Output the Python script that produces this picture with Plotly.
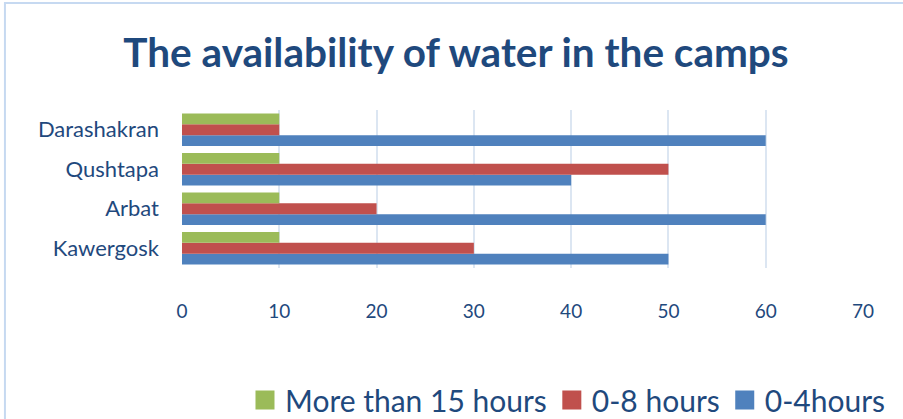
import plotly.graph_objects as go

categories = ["Kawergosk", "Arbat", "Qushtapa", "Darashakran"]
series_names = ["0-4hours", "0-8 hours", "More than 15 hours"]
values_0_4 = [50, 60, 40, 60]
values_0_8 = [30, 20, 50, 10]
values_15 = [10, 10, 10, 10]
colors = ["#4F81BD", "#C0504D", "#9BBB59"]
x_ticks = [0, 10, 20, 30, 40, 50, 60, 70]

TXT = "#1F497D"
FONT = "Lato"

fig = go.Figure()
for name, vals, col in zip(series_names, [values_0_4, values_0_8, values_15], colors):
    fig.add_trace(go.Bar(y=categories, x=vals, name=name, orientation="h",
                         marker=dict(color=col, line=dict(width=0)),
                         showlegend=False))
# legend entries (square markers)
for name, col in zip(series_names, colors):
    fig.add_trace(go.Scatter(x=[None], y=[None], mode="markers", name=name,
                             marker=dict(symbol="square", size=16, color=col,
                                         line=dict(color=col, width=3))))

fig.update_layout(
    width=903, height=419,
    margin=dict(l=182, r=40, t=110, b=151, autoexpand=False),
    paper_bgcolor="white", plot_bgcolor="white",
    barmode="group", bargap=0.18, bargroupgap=0,
    title=dict(text="<b>The availability of water in the camps</b>",
               x=0.505, xanchor="center", y=0.874, yanchor="middle",
               font=dict(family=FONT, size=40.5, color=TXT)),
    xaxis=dict(range=[0, 70], tickvals=x_ticks, showgrid=True, automargin=False,
               gridcolor="#DCE6F2", gridwidth=2, zeroline=False,
               showline=False, ticks="", ticklabelstandoff=30,
               tickfont=dict(family=FONT, size=19, color=TXT)),
    yaxis=dict(type="category", categoryorder="array", categoryarray=categories,
               automargin=False,
               showgrid=False, showline=False, ticks="", ticklabelstandoff=22,
               tickfont=dict(family=FONT, size=22, color=TXT)),
    legend=dict(orientation="h", traceorder="reversed", x=0.0925, xanchor="left",
                y=-0.835, yanchor="middle",
                font=dict(family=FONT, size=30, color=TXT),
                itemsizing="trace"),
    showlegend=True,
    shapes=[dict(type="rect", xref="paper", yref="paper",
                 x0=-0.26, x1=1.3, y0=-2, y1=1.677,
                 line=dict(color="#C6D9F1", width=2), layer="below")],
)

fig.write_html("out.html", config={"displayModeBar": False},
               post_script="document.body.style.margin='0';")
